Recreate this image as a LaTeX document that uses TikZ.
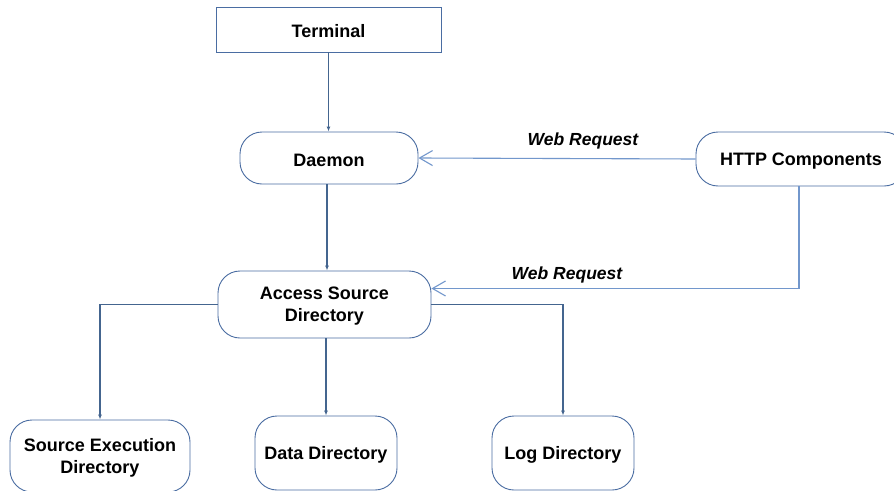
\documentclass[tikz,border=0pt]{standalone}
\usepackage{fontspec}
\setmainfont{Liberation Sans}
\usetikzlibrary{arrows.meta}
\definecolor{boxline}{HTML}{4A6DA2}
\definecolor{darkwire}{HTML}{44658F}
\definecolor{lightwire}{HTML}{7297CC}
\tikzset{
  base/.style={draw=boxline, line width=0.9pt, inner sep=0pt, align=center,
    font=\fontsize{18}{22}\selectfont\bfseries},
  oneline/.style={text height=17pt},
  twoline/.style={text depth=0pt},
  plainbox/.style={base, rectangle},
  roundbox/.style={base, rounded corners=22pt},
  flow/.style={draw=darkwire, line width=1.1pt, -{Latex[length=5pt,width=4pt]}},
  request/.style={draw=lightwire, line width=1.1pt, -{Straight Barb[length=13pt,width=15pt,line width=1.1pt]}},
  reqlabel/.style={font=\fontsize{17.5}{21}\selectfont\bfseries\itshape}
}
\begin{document}
\begin{tikzpicture}[x=1pt,y=-1pt]
  \useasboundingbox (0,0) rectangle (894,490);
  \clip (0,0) rectangle (894,490);
  \fill[white] (0,0) rectangle (894,490);

  % process nodes
  \node[plainbox, oneline, minimum width=225pt, minimum height=45pt] (term) at (328.5,29.5) {Terminal};
  \node[roundbox, oneline, minimum width=178pt, minimum height=52pt] (daemon) at (329,158) {Daemon};
  \node[roundbox, oneline, minimum width=210pt, minimum height=54pt] (http) at (801,159) {HTTP Components};
  \node[roundbox, twoline, minimum width=213pt, minimum height=67pt] (access) at (324.5,304.5) {Access Source\\Directory};
  \node[roundbox, twoline, minimum width=180pt, minimum height=72pt] (src) at (100,456) {Source Execution\\Directory};
  \node[roundbox, oneline, minimum width=142pt, minimum height=74pt] (data) at (326,453) {Data Directory};
  \node[roundbox, oneline, minimum width=142pt, minimum height=74pt] (log) at (563,453) {Log Directory};

  % control flow
  \draw[flow] (term.south) -- (term.south |- daemon.north);
  \draw[flow] ([xshift=-2pt]daemon.south) -- ([xshift=2.5pt]access.north);
  \draw[flow] (access.west) -| (src.north);
  \draw[flow] (access.south -| data.north) -- (data.north);
  \draw[flow] (access.east) -| (log.north);

  % web requests
  \draw[request] (http.west) -- (daemon.east);
  \draw[request] ([xshift=-2pt]http.south) |- ([yshift=16pt]access.east);
  \node[reqlabel] (lab1) at (583,141) {Web Request};
  \node[reqlabel] (lab2) at (567,275) {Web Request};
\end{tikzpicture}
\end{document}
